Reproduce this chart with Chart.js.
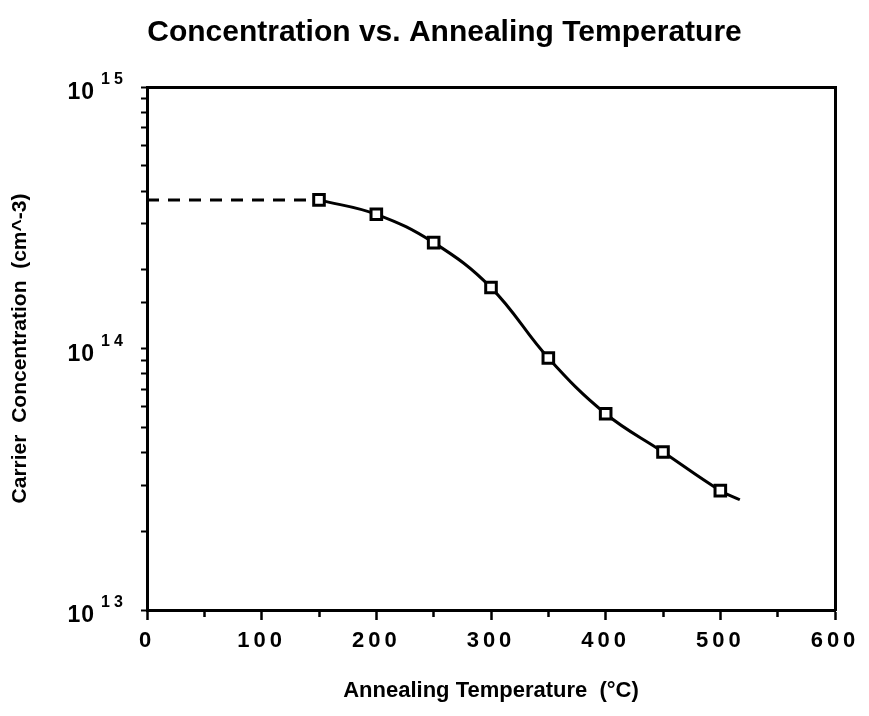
<!DOCTYPE html>
<html>
<head>
<meta charset="utf-8">
<title>Concentration vs. Annealing Temperature</title>
<script src="https://cdn.jsdelivr.net/npm/chart.js@4/dist/chart.umd.min.js"></script>
<style>
    html, body { margin: 0; padding: 0; background: #fff; }
    #wrap { width: 869px; height: 716px; }
</style>
</head>
<body>
<div id="wrap"><canvas id="concChart" width="869" height="716"></canvas></div>
<script>
// Measured points
const temperatures = [150, 200, 250, 300, 350, 400, 450, 500];
const concentrations = [3.70e14, 3.26e14, 2.54e14, 1.71e14, 9.2e13, 5.63e13, 4.02e13, 2.86e13];

// Fitted curve runs a little past the last point
const fitTemps = [150, 200, 250, 300, 350, 400, 450, 500, 517];
const fitConcs = [3.70e14, 3.26e14, 2.54e14, 1.71e14, 9.2e13, 5.63e13, 4.02e13, 2.86e13, 2.64e13];

// Dashed as-implanted level, from the axis to the first point
const dashTemps = [0, 150];
const dashConcs = [3.70e14, 3.70e14];

// Axis ticks
const xTickLabels = ['0', '100', '200', '300', '400', '500', '600'];
const yExponents = [13, 14, 15];

const FONT = "'Liberation Sans', Arial, Helvetica, sans-serif";

function toPoints(xs, ys) {
    return xs.map((x, i) => ({ x: x, y: ys[i] }));
}

// letter spacing for the x tick labels (drawn after the datasets, see ticks.z)
const spacingPlugin = {
    id: 'spacing',
    afterDatasetsDraw(chart) {
        chart.ctx.letterSpacing = '4px';
    },
    afterDraw(chart) {
        chart.ctx.letterSpacing = '0px';
    }
};

// y labels as 10 with a raised exponent
const powerLabels = {
    id: 'powerLabels',
    afterDraw(chart) {
        const ctx = chart.ctx;
        const yScale = chart.scales.y;
        ctx.save();
        ctx.fillStyle = '#000';
        ctx.textBaseline = 'middle';
        yExponents.forEach(e => {
            const py = yScale.getPixelForValue(Math.pow(10, e));
            ctx.letterSpacing = '1px';
            ctx.font = 'bold 23px ' + FONT;
            ctx.textAlign = 'right';
            ctx.fillText('10', 95, py + 6);
            ctx.letterSpacing = '4px';
            ctx.font = 'bold 16px ' + FONT;
            ctx.textAlign = 'left';
            ctx.fillText(String(e), 101, py - 7);
        });
        ctx.restore();
    }
};

const ctx = document.getElementById('concChart');

new Chart(ctx, {
    type: 'line',
    data: {
        datasets: [
            {
                label: 'Measured',
                data: toPoints(temperatures, concentrations),
                showLine: false,
                pointStyle: 'rect',
                pointRadius: 7.5,
                pointBorderWidth: 3,
                pointBorderColor: '#000',
                pointBackgroundColor: '#fff'
            },
            {
                label: 'Fit',
                data: toPoints(fitTemps, fitConcs),
                borderColor: '#000',
                borderWidth: 3,
                tension: 0.4,
                pointRadius: 0,
                fill: false
            },
            {
                label: 'As implanted',
                data: toPoints(dashTemps, dashConcs),
                borderColor: '#000',
                borderWidth: 3,
                borderDash: [12, 9],
                pointRadius: 0,
                fill: false
            }
        ]
    },
    options: {
        responsive: false,
        animation: false,
        layout: { padding: { left: 20, right: 0, top: 0, bottom: 0 } },
        plugins: {
            legend: { display: false },
            tooltip: { enabled: false },
            title: {
                display: true,
                text: 'Concentration vs. Annealing Temperature',
                color: '#000',
                font: { family: FONT, size: 30, weight: 'bold' },
                padding: { top: 15, bottom: 0 }
            }
        },
        scales: {
            x: {
                type: 'linear',
                position: 'bottom',
                min: 0,
                max: 600,
                grid: {
                    drawOnChartArea: false,
                    color: '#000',
                    tickLength: 10,
                    tickWidth: 2.5,
                    tickBorderDash: c => (c.tick && c.tick.value % 100 !== 0) ? [5, 50] : []
                },
                border: { display: true, color: '#000', width: 3 },
                ticks: {
                    stepSize: 50,
                    autoSkip: false,
                    maxRotation: 0,
                    z: 1,
                    color: '#000',
                    padding: 8,
                    font: { family: FONT, size: 22, weight: 'bold' },
                    callback: v => v % 100 === 0 ? xTickLabels[v / 100] : ''
                },
                title: {
                    display: true,
                    text: 'Annealing Temperature  (°C)',
                    color: '#000',
                    font: { family: FONT, size: 22, weight: 'bold' },
                    padding: { top: 0, bottom: 12 }
                },
                afterFit: s => { s.height = 106; }
            },
            x2: {
                type: 'linear',
                position: 'top',
                min: 0,
                max: 600,
                grid: { display: false },
                ticks: { display: false },
                border: { display: true, color: '#000', width: 3 },
                afterFit: s => { s.height = 36; }
            },
            y: {
                type: 'logarithmic',
                position: 'left',
                min: 1e13,
                max: 1e15,
                grid: {
                    drawOnChartArea: false,
                    color: '#000',
                    tickLength: 6,
                    tickWidth: 2
                },
                border: { display: true, color: '#000', width: 3 },
                ticks: {
                    autoSkip: false,
                    color: '#000',
                    callback: () => ''
                },
                title: {
                    display: true,
                    text: 'Carrier  Concentration  (cm^-3)',
                    color: '#000',
                    font: { family: FONT, size: 21, weight: 'bold' },
                    padding: { top: -12, bottom: 0 }
                },
                afterFit: s => { s.width = 127; }
            },
            y2: {
                type: 'linear',
                position: 'right',
                min: 0,
                max: 1,
                grid: { display: false },
                ticks: { display: false },
                border: { display: true, color: '#000', width: 3 },
                afterFit: s => { s.width = 34; }
            }
        }
    },
    plugins: [spacingPlugin, powerLabels]
});
</script>
</body>
</html>
